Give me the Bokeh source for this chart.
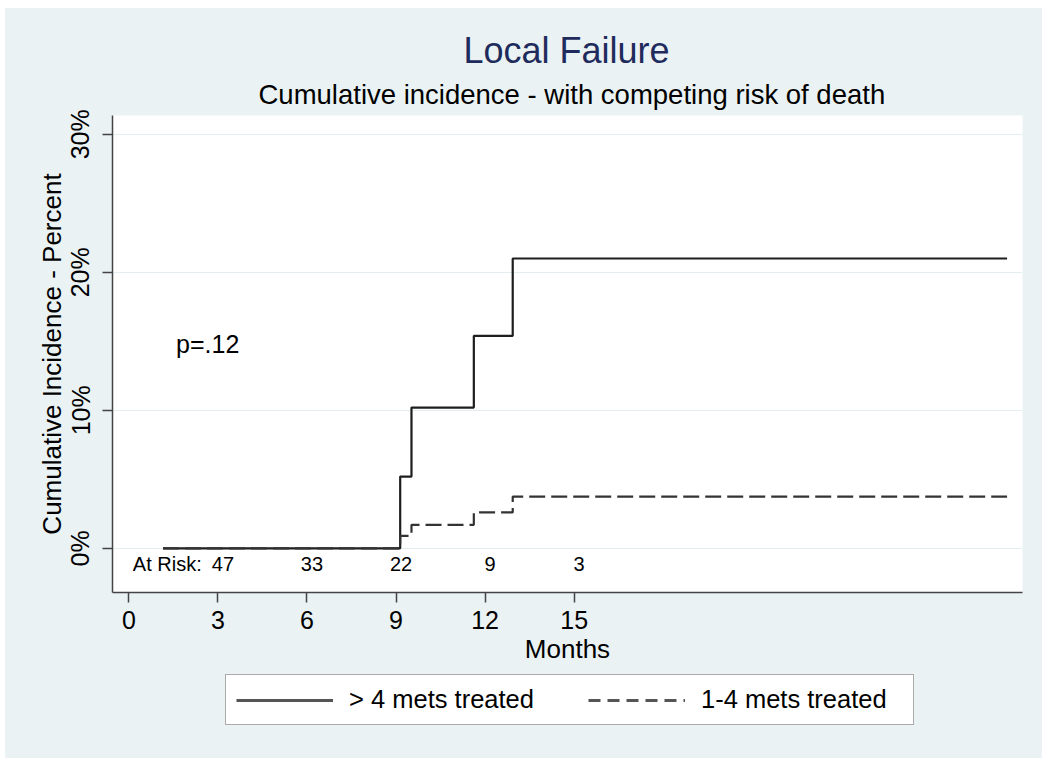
from bokeh.plotting import figure
from bokeh.models import (Label, Legend, LegendItem, FixedTicker, Range1d, ColumnDataSource,
                          Title, Spacer)
from bokeh.layouts import column, row
from bokeh.core.properties import value
from bokeh.embed import file_html
from bokeh.resources import INLINE

# ---- data ----
months_gt4 = [1.15, 9.14, 9.52, 11.62, 12.93, 29.58]
ci_gt4 = [0.0, 5.2, 10.2, 15.4, 21.0, 21.0]
months_1to4 = [1.15, 9.14, 9.52, 11.62, 12.93, 29.58]
ci_1to4 = [0.0, 0.9, 1.7, 2.6, 3.75, 3.75]
series_names = ["> 4 mets treated", "1-4 mets treated"]

at_risk_months = [3, 6, 9, 12, 15]
at_risk_counts = ["47", "33", "22", "9", "3"]

x_ticks = [0, 3, 6, 9, 12, 15]
y_ticks = [0, 10, 20, 30]
y_tick_labels = ["0%", "10%", "20%", "30%"]

title_text = "Local Failure"
subtitle_text = "Cumulative incidence - with competing risk of death"
p_value_text = "p=.12"

FONT = "Liberation Sans"
BG = "#eaf2f3"

# ---------------- main chart ----------------
p = figure(width=1037, height=664, output_backend="svg", toolbar_location=None,
           x_range=Range1d(-0.55, 30.1), y_range=Range1d(-3.2, 31.36),
           min_border_left=107, min_border_top=107, min_border_right=20, min_border_bottom=80)
p.title = None
p.background_fill_color = "white"
p.border_fill_color = BG
p.outline_line_color = None

for ax in (p.xaxis[0], p.yaxis[0]):
    ax.axis_line_color = "#444444"
    ax.axis_line_width = 1.5
    ax.major_tick_line_color = "#444444"
    ax.major_tick_line_width = 1.5
    ax.major_tick_out = 10
    ax.major_tick_in = 0
    ax.minor_tick_line_color = None
    ax.major_label_text_font = FONT
    ax.major_label_text_font_size = "25px"
    ax.major_label_text_color = "black"
    ax.axis_label_text_font = FONT
    ax.axis_label_text_font_size = "26px"
    ax.axis_label_text_font_style = "normal"
    ax.axis_label_text_color = "black"

p.xaxis.ticker = FixedTicker(ticks=x_ticks)
p.xaxis.axis_label = "Months"
p.xaxis.major_label_standoff = 8
p.xaxis.axis_label_standoff = 2

p.yaxis.ticker = FixedTicker(ticks=y_ticks)
p.yaxis.major_label_overrides = {t: l for t, l in zip(y_ticks, y_tick_labels)}
p.yaxis.major_label_orientation = "vertical"
p.yaxis.axis_label = "Cumulative Incidence - Percent"
p.yaxis.major_label_standoff = 8
p.yaxis.axis_label_standoff = -3

p.xgrid.grid_line_color = None
p.ygrid.ticker = FixedTicker(ticks=y_ticks)
p.ygrid.grid_line_color = "#e3eef0"
p.ygrid.grid_line_width = 1

r1 = p.step(months_gt4, ci_gt4, mode="after", line_color="#1e1e1e", line_width=2.2)
r2 = p.step(months_1to4, ci_1to4, mode="after", line_color="#333333", line_width=2.2,
            line_dash="16 6")

src = ColumnDataSource(data=dict(x=at_risk_months, y=[-1.1] * len(at_risk_months), t=at_risk_counts))
p.text(x="x", y="y", text="t", source=src, text_align="center", text_baseline="middle",
       text_font=value(FONT), text_font_size="20px", text_color="black", x_offset=5)
p.add_layout(Label(x=0, y=-1.1, text="At Risk:", text_align="left", text_baseline="middle",
                   x_offset=4, text_font=FONT, text_font_size="20px", text_color="black"))

p.add_layout(Label(x=1.59, y=14.77, text=p_value_text, text_align="left", text_baseline="middle",
                   text_font=FONT, text_font_size="25px", text_color="black"))

p.add_layout(Title(text=subtitle_text, align="left", offset=146, standoff=11,
                   text_font=FONT, text_font_size="27.5px", text_font_style="normal",
                   text_color="black"), "above")
p.add_layout(Title(text=title_text, align="left", offset=351, standoff=1,
                   text_font=FONT, text_font_size="36px", text_font_style="normal",
                   text_color="#1e2b5c"), "above")

# ---------------- legend strip ----------------
# legend keys reuse the series data but sit outside this strip's ranges
lg = figure(width=1037, height=86, output_backend="svg", toolbar_location=None,
            x_axis_type=None, y_axis_type=None,
            x_range=Range1d(-100, -99), y_range=Range1d(-100, -99),
            min_border_left=107, min_border_right=20, min_border_top=0, min_border_bottom=0)
lg.title = None
lg.background_fill_color = BG
lg.border_fill_color = BG
lg.outline_line_color = None
lg.xgrid.grid_line_color = None
lg.ygrid.grid_line_color = None
k1 = lg.line(months_gt4, ci_gt4, line_color="#555555", line_width=3)
k2 = lg.line(months_1to4, ci_1to4, line_color="#555555", line_width=3, line_dash="12 7")

legend = Legend(items=[LegendItem(label=series_names[0], renderers=[k1]),
                       LegendItem(label=series_names[1], renderers=[k2])],
                orientation="horizontal", location=(113, 33))
legend.label_text_font = FONT
legend.label_text_font_size = "25.5px"
legend.label_text_color = "black"
legend.glyph_width = 97
legend.glyph_height = 26
legend.label_standoff = 16
legend.label_width = 202
legend.spacing = 37
legend.padding = 10
legend.margin = 0
legend.border_line_color = "#555555"
legend.border_line_width = 1.5
legend.background_fill_color = "white"
legend.background_fill_alpha = 1.0
lg.add_layout(legend, "center")

chart = column(p, lg, spacing=0, styles={"background-color": BG})
layout = column(Spacer(height=8), row(Spacer(width=5), chart))
open("out.html", "w").write(file_html(layout, INLINE))
